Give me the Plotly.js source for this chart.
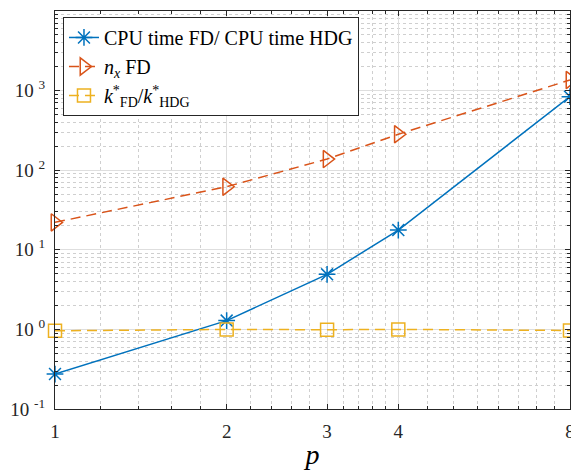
<!DOCTYPE html>
<html>
<head>
<meta charset="utf-8">
<script src="https://cdn.plot.ly/plotly-3.0.1.min.js"></script>
<style>html,body{margin:0;padding:0;background:#fff;}#chart{width:571px;height:475px;}</style>
</head>
<body>
<div id="chart"></div>
<script>
// Data
var p = [1, 2, 3, 4, 8];
var cpuRatio = [0.275, 1.29, 4.92, 17.7, 840];
var nxFD = [22.1, 62, 138, 283, 1360];
var kRatio = [0.96, 1.0, 0.99, 1.0, 0.97];

var xTickVals = [1, 2, 3, 4, 8];
var xTickText = ['1', '2', '3', '4', '8'];
var yTickVals = [0.1, 1, 10, 100, 1000, 10000];
var yTickText = ['10 <sup>-1</sup>', '10 <sup>0</sup>', '10 <sup>1</sup>', '10 <sup>2</sup>', '10 <sup>3</sup>', '10 <sup>4</sup>'];
var xMinor = [1.2, 1.4, 1.6, 1.8, 2.2, 2.4, 2.6, 2.8, 3.2, 3.4, 3.6, 3.8, 4.5, 5, 5.5, 6, 6.5, 7, 7.5];
var yMinor = [];
[0.1, 1, 10, 100, 1000].forEach(function (d) {
  for (var k = 2; k <= 9; k++) yMinor.push(d * k);
});

var blue = '#0072BD', red = '#D95319', yellow = '#EDB120';
var serif = '"Liberation Serif", "Times New Roman", serif';

var traces = [
  {
    x: p, y: cpuRatio, type: 'scatter', mode: 'lines+markers',
    name: 'CPU time FD/ CPU time HDG',
    line: {color: blue, width: 1.5},
    marker: {symbol: 'asterisk-open', size: 14, line: {color: blue, width: 1.5}},
    cliponaxis: false
  },
  {
    x: p, y: nxFD, type: 'scatter', mode: 'lines+markers',
    name: '<i>n</i><sub><i>x</i></sub> FD',
    line: {color: red, width: 1.5, dash: '10px,6px'},
    marker: {symbol: 'triangle-right-open', size: 15, color: red, line: {color: red, width: 1.5}},
    cliponaxis: false
  },
  {
    x: p, y: kRatio, type: 'scatter', mode: 'lines+markers',
    name: '<i>k</i><sup>*</sup><sub>FD</sub>/<i>k</i><sup>*</sup><sub>HDG</sub>',
    line: {color: yellow, width: 1.5, dash: '10px,6px'},
    marker: {symbol: 'square-open', size: 13, color: yellow, line: {color: yellow, width: 1.5}},
    cliponaxis: false
  }
];

var axisCommon = {
  showline: true, linecolor: '#262626', linewidth: 1, mirror: 'allticks',
  ticks: 'inside', ticklen: 5, tickcolor: '#262626', tickwidth: 1,
  showgrid: true, gridcolor: '#dedede', gridwidth: 1,
  zeroline: false,
  tickfont: {family: serif, size: 19, color: '#262626'}
};

var layout = {
  width: 571, height: 475,
  margin: {l: 55, r: 1, t: 11, b: 66},
  paper_bgcolor: '#fff', plot_bgcolor: '#fff',
  font: {family: serif},
  showlegend: true,
  legend: {
    x: 0.0155, y: 0.985, xanchor: 'left', yanchor: 'top',
    bgcolor: '#fff', bordercolor: '#262626', borderwidth: 1,
    font: {family: serif, size: 20, color: '#000'},
    tracegroupgap: 0
  },
  xaxis: Object.assign({}, axisCommon, {
    type: 'log', range: [0, 0.90312],
    tickmode: 'array', tickvals: xTickVals, ticktext: xTickText,
    ticklabelstandoff: 5, ticklabeloverflow: 'allow',
    minor: {tickmode: 'array', tickvals: xMinor, ticks: 'inside', ticklen: 3, tickcolor: '#262626',
            showgrid: true, gridcolor: '#cfcfcf', griddash: 'dot', gridwidth: 1},
    title: {text: '<i>p</i>', font: {family: serif, size: 28, color: '#000'}, standoff: 3}
  }),
  yaxis: Object.assign({}, axisCommon, {
    type: 'log', range: [-1, 4],
    tickmode: 'array', tickvals: yTickVals, ticktext: yTickText,
    ticklabelstandoff: 5,
    minor: {tickmode: 'array', tickvals: yMinor, ticks: 'inside', ticklen: 3, tickcolor: '#262626',
            showgrid: true, gridcolor: '#cfcfcf', griddash: 'dot', gridwidth: 1}
  })
};

Plotly.newPlot('chart', traces, layout, {displayModeBar: false, staticPlot: true});
</script>
</body>
</html>
